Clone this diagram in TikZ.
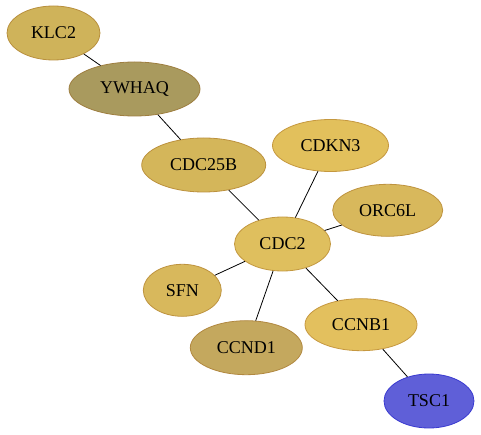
\documentclass[tikz,border=0pt]{standalone}
\usepackage{fontspec}
\setmainfont{Liberation Serif}
\usepackage{xcolor}
\usetikzlibrary{shapes.geometric}
\definecolor{goldA}{HTML}{CFB35A}
\definecolor{goldB}{HTML}{A99A5E}
\definecolor{goldC}{HTML}{D4B65A}
\definecolor{goldD}{HTML}{E2C05C}
\definecolor{goldE}{HTML}{D8B85C}
\definecolor{goldF}{HTML}{DFBF5E}
\definecolor{goldG}{HTML}{C4A85E}
\definecolor{goldH}{HTML}{E3C05E}
\definecolor{blueA}{HTML}{5F5FD8}
\definecolor{blueB}{HTML}{3A3AD0}

\begin{document}
\begin{tikzpicture}[x=1pt, y=-1pt,
    gene/.style={ellipse, draw=#1!80!orange!85!black, fill=#1, line width=0.8pt, inner sep=0pt,
      font=\fontsize{18}{20}\selectfont},
    link/.style={draw=black, line width=0.8pt}]
    \useasboundingbox (0,0) rectangle (481,435);
    \node[gene=goldA, minimum width=93pt, minimum height=54pt] (klc) at (53.5,33) {KLC2};
    \node[gene=goldB, minimum width=131pt, minimum height=54pt] (ywhaq) at (134.5,89) {YWHAQ};
    \node[gene=goldC, minimum width=124pt, minimum height=54pt] (cdcb) at (203.7,165) {CDC25B};
    \node[gene=goldD, minimum width=116pt, minimum height=52pt] (cdkn) at (330.5,145.5) {CDKN3};
    \node[gene=goldE, minimum width=110pt, minimum height=52pt] (orc) at (387.7,210.3) {ORC6L};
    \node[gene=goldF, minimum width=96pt, minimum height=54pt] (cdc) at (282.5,244) {CDC2};
    \node[gene=goldE, minimum width=78pt, minimum height=52pt] (sfn) at (182.3,290.3) {SFN};
    \node[gene=goldG, minimum width=112pt, minimum height=54pt] (ccnd) at (246.3,347.7) {CCND1};
    \node[gene=goldH, minimum width=112pt, minimum height=52pt] (ccnb) at (361,324.7) {CCNB1};
    \node[ellipse, draw=blueB, fill=blueA, line width=0.8pt, inner sep=0pt,
    minimum width=90pt, minimum height=54pt, font=\fontsize{18}{20}\selectfont] (tsc) at (429,401) {TSC1}; % blue one
    \draw[link] (klc) -- (ywhaq);
    \draw[link] (ywhaq) -- (cdcb);
    \draw[link] (cdcb) -- (cdc);
    \draw[link] (cdkn) -- (cdc);
    \draw[link] (orc) -- (cdc);
    \draw[link] (cdc) -- (sfn);
    \draw[link] (cdc) -- (ccnd);
    \draw[link] (cdc) -- (ccnb);
    \draw[link] (ccnb) -- (tsc);
    \end{tikzpicture}
\end{document}
